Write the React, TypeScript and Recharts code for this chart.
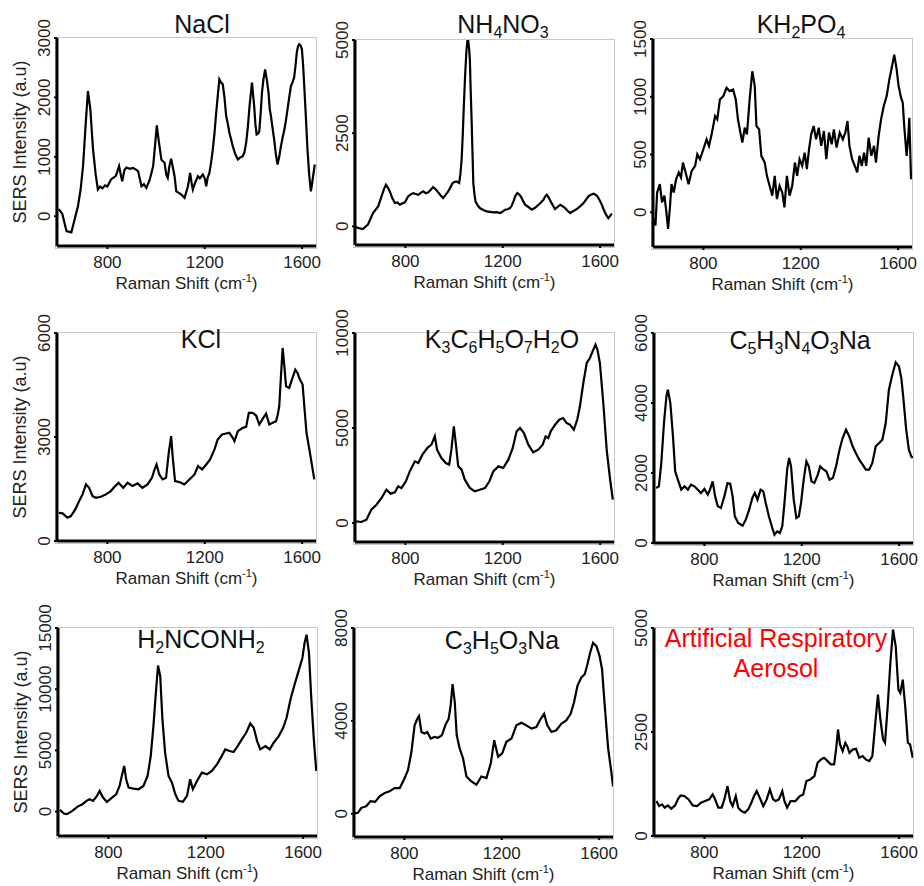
import React from "react";
import { LineChart, Line, XAxis, YAxis } from "recharts";

const FONT = '"Liberation Sans", Arial, Helvetica, sans-serif';

// [Raman shift (cm-1), SERS intensity (a.u)]
const nacl = [
  [600, 120], [615, 40], [632, -250], [652, -270], [665, -60], [679, 170], [690, 450], [700, 843],
  [710, 1500], [720, 2108], [730, 1800], [741, 1124], [752, 700], [761, 450], [770, 500], [780, 470],
  [790, 520], [800, 500], [815, 620], [835, 680], [848, 843], [855, 700], [861, 590], [870, 780],
  [878, 820], [892, 800], [905, 815], [916, 790], [926, 760], [940, 505], [950, 540], [960, 478],
  [974, 618], [988, 843], [996, 1200], [1003, 1530], [1010, 1300], [1014, 1180], [1022, 950], [1028, 927],
  [1035, 900], [1042, 700], [1048, 646], [1055, 850], [1062, 967], [1070, 800], [1076, 674], [1083, 420],
  [1095, 390], [1104, 365], [1117, 309], [1125, 420], [1131, 505], [1140, 730], [1146, 560], [1151, 450],
  [1160, 560], [1172, 674], [1180, 640], [1192, 702], [1200, 640], [1206, 505], [1212, 650], [1219, 730],
  [1226, 900], [1233, 1124], [1240, 1400], [1247, 1742], [1254, 2050], [1260, 2304], [1267, 2250], [1274, 2220],
  [1281, 2000], [1288, 1686], [1295, 1550], [1301, 1405], [1308, 1300], [1315, 1180], [1325, 1050], [1336, 955],
  [1346, 990], [1356, 1012], [1363, 1080], [1370, 1236], [1377, 1500], [1384, 1855], [1394, 2248], [1403, 1855],
  [1408, 1550], [1413, 1377], [1419, 1390], [1424, 1433], [1430, 1750], [1435, 2079], [1441, 2300], [1448, 2473],
  [1455, 2300], [1462, 2079], [1467, 1800], [1472, 1686], [1478, 1500], [1485, 1293], [1492, 1050], [1499, 871],
  [1506, 1000], [1513, 1180], [1520, 1330], [1526, 1433], [1533, 1600], [1540, 1798], [1547, 2000], [1554, 2192],
  [1560, 2250], [1567, 2332], [1572, 2500], [1578, 2754], [1583, 2860], [1588, 2894], [1594, 2870], [1599, 2810],
  [1604, 2550], [1608, 2248], [1615, 1700], [1622, 1124], [1629, 700], [1636, 421], [1641, 550], [1645, 674],
  [1652, 871],
];

const nh4no3 = [
  [591, 0], [605, -40], [625, -70], [646, 45], [667, 357], [688, 536], [702, 804], [712, 1000],
  [720, 1116], [728, 1040], [736, 938], [746, 760], [757, 625], [767, 640], [777, 580], [788, 620],
  [798, 643], [811, 804], [822, 860], [832, 893], [843, 870], [853, 848], [863, 900], [873, 938],
  [884, 890], [894, 911], [904, 980], [914, 1054], [925, 990], [935, 911], [945, 830], [955, 759],
  [966, 850], [976, 938], [985, 1050], [994, 1161], [1002, 1190], [1010, 1205], [1016, 1180], [1021, 1161],
  [1026, 1400], [1031, 1786], [1036, 2500], [1040, 3215], [1045, 4000], [1051, 4733], [1055, 4980], [1058, 4983],
  [1062, 4750], [1065, 4465], [1068, 3700], [1072, 2858], [1076, 1900], [1079, 1161], [1084, 850], [1088, 670],
  [1097, 560], [1106, 491], [1120, 440], [1134, 402], [1148, 390], [1161, 375], [1175, 380], [1189, 357],
  [1200, 400], [1210, 447], [1220, 460], [1230, 491], [1237, 560], [1244, 670], [1252, 820], [1260, 893],
  [1267, 860], [1274, 804], [1283, 690], [1292, 580], [1305, 520], [1319, 447], [1333, 500], [1347, 580],
  [1357, 640], [1367, 714], [1374, 800], [1381, 848], [1389, 770], [1397, 670], [1406, 560], [1415, 464],
  [1425, 520], [1436, 580], [1446, 540], [1456, 491], [1466, 420], [1477, 357], [1490, 410], [1504, 464],
  [1518, 540], [1532, 625], [1542, 720], [1552, 804], [1562, 850], [1573, 875], [1581, 850], [1589, 804],
  [1598, 700], [1607, 580], [1614, 460], [1621, 357], [1627, 290], [1634, 223], [1641, 280], [1648, 340],
];

const kh2po4 = [
  [596, -50], [603, -115], [610, 172], [621, 244], [630, 86], [640, 144], [648, 0], [655, -144],
  [662, 29], [669, 244], [678, 172], [688, 287], [699, 345], [708, 302], [716, 431], [727, 345],
  [739, 244], [752, 359], [766, 402], [775, 503], [786, 460], [800, 546], [813, 632], [823, 575],
  [834, 675], [848, 833], [857, 805], [868, 977], [882, 1006], [895, 1078], [908, 1049], [922, 1063],
  [933, 977], [942, 805], [952, 690], [960, 604], [970, 733], [979, 675], [990, 977], [1001, 1221],
  [1011, 1092], [1018, 747], [1029, 718], [1038, 489], [1052, 431], [1061, 316], [1072, 230], [1083, 144],
  [1093, 316], [1102, 115], [1113, 230], [1124, 172], [1133, 43], [1143, 316], [1154, 144], [1165, 230],
  [1176, 431], [1185, 316], [1195, 460], [1206, 402], [1216, 517], [1225, 374], [1234, 546], [1243, 675],
  [1253, 747], [1263, 632], [1274, 733], [1284, 575], [1295, 704], [1305, 460], [1316, 690], [1327, 589],
  [1336, 718], [1347, 560], [1360, 690], [1373, 632], [1383, 690], [1392, 790], [1400, 575], [1411, 460],
  [1422, 402], [1432, 345], [1441, 489], [1451, 402], [1460, 517], [1469, 402], [1479, 647], [1490, 489],
  [1501, 575], [1509, 431], [1520, 661], [1530, 805], [1541, 920], [1553, 1006], [1564, 1150], [1575, 1264],
  [1584, 1365], [1594, 1236], [1602, 1092], [1612, 992], [1619, 949], [1625, 747], [1635, 489], [1642, 661],
  [1646, 819], [1653, 287],
];

const kcl = [
  [600, 816], [616, 797], [636, 672], [650, 720], [668, 912], [684, 1152], [698, 1344], [712, 1632],
  [725, 1536], [739, 1296], [753, 1248], [773, 1277], [794, 1344], [814, 1440], [832, 1584], [846, 1680],
  [865, 1536], [883, 1680], [903, 1584], [924, 1661], [944, 1536], [965, 1632], [983, 1824], [994, 2064],
  [1002, 2208], [1013, 1920], [1027, 1776], [1041, 1824], [1052, 2544], [1062, 3024], [1068, 2448], [1078, 1728],
  [1096, 1699], [1116, 1632], [1137, 1776], [1158, 1920], [1172, 2160], [1189, 2064], [1206, 2208], [1222, 2352],
  [1240, 2640], [1253, 2928], [1271, 3072], [1288, 3100], [1301, 3120], [1315, 2976], [1322, 2880], [1336, 3168],
  [1356, 3264], [1370, 3293], [1381, 3696], [1397, 3696], [1411, 3619], [1424, 3360], [1438, 3523], [1452, 3677],
  [1465, 3360], [1479, 3408], [1493, 3456], [1500, 3648], [1506, 3888], [1513, 4752], [1520, 5568], [1527, 5040],
  [1534, 4464], [1547, 4416], [1558, 4656], [1572, 4944], [1581, 4848], [1591, 4656], [1602, 4512], [1609, 3888],
  [1618, 3120], [1632, 2544], [1650, 1776],
];

const citrate = [
  [598, 88], [619, 53], [640, 175], [660, 702], [681, 965], [702, 1316], [722, 1754], [739, 1544],
  [757, 1614], [770, 1929], [784, 1842], [802, 2193], [818, 2719], [839, 3245], [853, 3157], [870, 3596],
  [890, 3947], [907, 4122], [921, 4560], [930, 3859], [948, 3420], [966, 3157], [980, 3070], [989, 3859],
  [999, 5087], [1007, 4210], [1017, 2982], [1031, 2806], [1044, 2280], [1065, 1842], [1085, 1666], [1106, 1754],
  [1127, 1842], [1145, 2193], [1161, 2719], [1182, 2982], [1202, 2894], [1223, 3333], [1241, 3947], [1257, 4824],
  [1271, 5000], [1287, 4736], [1305, 4122], [1325, 3719], [1346, 3859], [1364, 4122], [1376, 4560], [1387, 4473],
  [1397, 4824], [1415, 5175], [1432, 5438], [1448, 5526], [1462, 5263], [1476, 5175], [1492, 4912], [1506, 5438],
  [1517, 6140], [1531, 7368], [1545, 8420], [1558, 8683], [1569, 9034], [1581, 9385], [1589, 9121], [1599, 8420],
  [1613, 6315], [1627, 3859], [1641, 2280], [1652, 1228],
];

const urate = [
  [602, 1571], [613, 1619], [623, 2286], [634, 3429], [644, 4190], [650, 4381], [660, 4000], [671, 3048],
  [680, 2048], [691, 1810], [705, 1524], [718, 1619], [732, 1524], [745, 1667], [759, 1619], [773, 1524],
  [786, 1429], [800, 1543], [814, 1381], [823, 1524], [834, 1762], [844, 1333], [855, 1048], [868, 1000],
  [882, 1333], [895, 1714], [906, 1695], [916, 1333], [925, 762], [939, 571], [957, 495], [970, 667],
  [984, 952], [997, 1286], [1007, 1429], [1018, 1238], [1031, 1524], [1042, 1476], [1052, 1143], [1065, 762],
  [1079, 429], [1088, 238], [1099, 333], [1110, 286], [1120, 476], [1129, 1143], [1140, 2095], [1148, 2429],
  [1156, 2190], [1167, 1238], [1178, 714], [1188, 762], [1197, 1143], [1208, 1810], [1219, 2333], [1229, 2190],
  [1240, 1762], [1252, 1714], [1266, 1952], [1276, 2190], [1290, 2095], [1301, 2048], [1314, 1810], [1328, 1857],
  [1341, 2190], [1355, 2667], [1368, 3000], [1382, 3238], [1395, 3048], [1409, 2762], [1422, 2571], [1436, 2381],
  [1450, 2238], [1463, 2095], [1477, 2095], [1490, 2286], [1504, 2762], [1518, 2857], [1531, 2952], [1545, 3429],
  [1558, 4381], [1572, 4810], [1586, 5162], [1599, 5048], [1609, 4714], [1618, 4095], [1629, 3238], [1640, 2667],
  [1650, 2476], [1656, 2429],
];

const urea = [
  [601, 136], [617, -163], [630, -217], [652, 54], [672, 380], [693, 598], [710, 869], [723, 1005],
  [737, 869], [753, 1277], [764, 1685], [778, 1141], [794, 788], [815, 1141], [832, 1413], [846, 2092],
  [855, 2907], [865, 3722], [873, 2635], [883, 1956], [903, 1875], [924, 1820], [944, 2092], [961, 2907],
  [974, 4537], [985, 6983], [996, 9971], [1004, 11928], [1013, 11058], [1022, 7526], [1033, 4809], [1047, 2907],
  [1061, 2364], [1075, 1413], [1088, 869], [1106, 788], [1123, 1277], [1136, 2635], [1147, 1820], [1164, 2500],
  [1184, 3179], [1205, 3043], [1225, 3315], [1246, 3858], [1262, 4402], [1280, 5081], [1298, 4945], [1314, 4863],
  [1331, 5352], [1348, 5896], [1366, 6439], [1383, 7200], [1397, 6847], [1411, 5760], [1424, 5081], [1445, 5352],
  [1463, 5081], [1479, 5624], [1500, 6168], [1518, 6847], [1532, 7662], [1548, 9156], [1565, 10379], [1583, 11602],
  [1597, 12553], [1606, 13775], [1614, 14454], [1624, 12960], [1633, 9428], [1644, 5896], [1654, 3315],
];

const lactate = [
  [592, 0], [609, 43], [623, 256], [643, 327], [661, 540], [680, 512], [698, 753], [719, 895],
  [739, 966], [760, 1108], [781, 1108], [798, 1464], [815, 1890], [829, 2671], [842, 3808], [853, 4092],
  [860, 4206], [870, 3524], [883, 3453], [894, 3524], [908, 3240], [924, 3311], [938, 3268], [954, 3382],
  [968, 3808], [982, 4092], [990, 4661], [998, 5585], [1007, 4803], [1015, 3382], [1027, 2814], [1041, 2387],
  [1055, 1606], [1075, 1393], [1096, 1251], [1116, 1606], [1137, 1535], [1155, 2174], [1169, 3169], [1185, 2458],
  [1202, 2600], [1219, 3098], [1240, 3240], [1260, 3808], [1281, 3922], [1301, 3808], [1322, 3666], [1342, 3737],
  [1360, 4092], [1374, 4305], [1387, 3808], [1404, 3524], [1424, 3595], [1445, 3879], [1465, 4021], [1483, 4305],
  [1497, 4803], [1511, 5514], [1527, 5869], [1541, 6011], [1552, 6437], [1563, 6934], [1575, 7361], [1589, 7219],
  [1602, 6792], [1612, 6224], [1623, 4661], [1637, 2814], [1650, 1819], [1657, 1179],
];

const aerosol = [
  [603, 840], [614, 720], [626, 760], [637, 680], [650, 736], [664, 656], [680, 736], [691, 880],
  [702, 976], [718, 960], [735, 880], [752, 736], [770, 720], [786, 800], [803, 840], [820, 880],
  [834, 1000], [844, 880], [857, 680], [871, 680], [882, 880], [895, 1200], [906, 840], [916, 720],
  [929, 960], [939, 680], [952, 600], [966, 560], [980, 640], [993, 800], [1004, 960], [1015, 1080],
  [1029, 896], [1042, 720], [1056, 880], [1069, 1120], [1082, 880], [1093, 840], [1106, 880], [1120, 1080],
  [1129, 840], [1140, 680], [1154, 840], [1174, 840], [1192, 960], [1206, 1000], [1219, 1320], [1235, 1360],
  [1252, 1440], [1265, 1760], [1279, 1840], [1292, 1880], [1306, 1800], [1320, 1720], [1333, 1720], [1341, 2080],
  [1349, 2560], [1357, 2200], [1368, 2040], [1379, 2240], [1387, 2160], [1396, 2000], [1409, 2080], [1423, 2096],
  [1436, 1880], [1450, 1920], [1463, 1840], [1477, 1800], [1490, 1920], [1501, 2640], [1513, 3400], [1523, 2800],
  [1534, 2320], [1542, 2240], [1553, 3120], [1564, 4160], [1575, 4960], [1586, 4560], [1597, 3520], [1605, 3440],
  [1615, 3760], [1625, 3120], [1636, 2240], [1645, 2200], [1656, 1880],
];

const shiftDomain = [593, 1657];
const shiftTicks = [800, 1200, 1600];

const naclTicks = [0, 1000, 2000, 3000];
const nh4no3Ticks = [0, 2500, 5000];
const kh2po4Ticks = [0, 500, 1000, 1500];
const kclTicks = [0, 3000, 6000];
const citrateTicks = [0, 5000, 10000];
const urateTicks = [0, 2000, 4000, 6000];
const ureaTicks = [0, 5000, 10000, 15000];
const lactateTicks = [0, 4000, 8000];
const aerosolTicks = [0, 2500, 5000];

const titles = [
  "NaCl", "NH_4NO_3", "KH_2PO_4",
  "KCl", "K_3C_6H_5O_7H_2O", "C_5H_3N_4O_3Na",
  "H_2NCONH_2", "C_3H_5O_3Na", "Artificial Respiratory|Aerosol",
];

// layout of the 3x3 grid: plot box left/top/height, title anchor
const panels = [
  { data: nacl, yDomain: [-500, 3000], yTicks: naclTicks, left: 57, top: 38, h: 208, tx: 202, ty: 33, yLabel: true },
  { data: nh4no3, yDomain: [-500, 5000], yTicks: nh4no3Ticks, left: 355, top: 40, h: 205, tx: 503, ty: 33 },
  { data: kh2po4, yDomain: [-300, 1500], yTicks: kh2po4Ticks, left: 653, top: 39, h: 208, tx: 801, ty: 33 },
  { data: kcl, yDomain: [0, 6000], yTicks: kclTicks, left: 57, top: 333, h: 208, tx: 201, ty: 348, yLabel: true },
  { data: citrate, yDomain: [-1000, 10000], yTicks: citrateTicks, left: 355, top: 333, h: 209, tx: 502, ty: 348 },
  { data: urate, yDomain: [0, 6000], yTicks: urateTicks, left: 654, top: 333, h: 210, tx: 800, ty: 349 },
  { data: urea, yDomain: [-2000, 15000], yTicks: ureaTicks, left: 58, top: 628, h: 208, tx: 201, ty: 648, yLabel: true },
  { data: lactate, yDomain: [-1000, 8000], yTicks: lactateTicks, left: 354, top: 628, h: 209, tx: 502, ty: 649 },
  { data: aerosol, yDomain: [0, 5000], yTicks: aerosolTicks, left: 654, top: 628, h: 208, tx: 776, ty: 647, red: true },
];

const PLOT_W = 259;
const Y_W = 57;
const TOP_PAD = 30;
const X_H = 56;

const YTick = (props: any) => {
  const { x, y, payload } = props;
  return (
    <text x={x} y={y} transform={`rotate(-90, ${x}, ${y})`} textAnchor="middle"
      fontSize={17} fill="#222" fontFamily={FONT}>
      {payload.value}
    </text>
  );
};

const ShiftLabel = ({ viewBox }: any) => {
  const cx = viewBox.x + viewBox.width / 2;
  return (
    <text x={cx} y={viewBox.y + 43} textAnchor="middle" fontSize={17} fill="#222" fontFamily={FONT}>
      Raman Shift (cm<tspan dy={-7} fontSize={11}>-1</tspan><tspan dy={7}>)</tspan>
    </text>
  );
};

const IntensityLabel = ({ viewBox }: any) => {
  const x = viewBox.x + 26;
  const y = viewBox.y + viewBox.height / 2;
  return (
    <text x={x} y={y} transform={`rotate(-90, ${x}, ${y})`} textAnchor="middle"
      fontSize={18} fill="#222" fontFamily={FONT}>
      SERS Intensity (a.u)
    </text>
  );
};

const formula = (s: string) =>
  s.split(/_(\d)/).map((part, i) =>
    i % 2 === 1 ? (
      <tspan key={i} dy={5} fontSize={16}>{part}</tspan>
    ) : (
      <tspan key={i} dy={i === 0 ? 0 : -5}>{part}</tspan>
    )
  );

function Spectrum({ p }: { p: any }) {
  const rows = p.data.map(([shift, intensity]: number[]) => ({ shift, intensity }));
  const W = Y_W + PLOT_W + 6;
  const H = TOP_PAD + p.h + X_H;
  return (
    <div style={{ position: "absolute", left: p.left - Y_W, top: p.top - TOP_PAD, width: W, height: H }}>
      <div
        style={{
          position: "absolute", left: Y_W - 2, top: TOP_PAD - 1, width: PLOT_W + 3, height: p.h + 4,
          border: "1px solid #c8c8c8", boxSizing: "border-box",
        }}
      />
      <div style={{ position: "absolute", left: 0, top: 0 }}>
        <LineChart width={W} height={H} data={rows} margin={{ top: TOP_PAD, right: 6, bottom: 0, left: 0 }}>
          <XAxis
            type="number" dataKey="shift" domain={shiftDomain} ticks={shiftTicks} allowDataOverflow
            height={X_H} axisLine={{ stroke: "#000", strokeWidth: 3 }} tickLine={{ stroke: "#000", strokeWidth: 2 }}
            tickSize={3} tickMargin={7} tick={{ fontSize: 17, fill: "#222", fontFamily: FONT }}
            label={<ShiftLabel />}
          />
          <YAxis
            type="number" domain={p.yDomain} ticks={p.yTicks} allowDataOverflow width={Y_W}
            axisLine={{ stroke: "#000", strokeWidth: 3 }} tickLine={{ stroke: "#000", strokeWidth: 2 }}
            tickSize={3} tickMargin={4} tick={YTick}
            label={p.yLabel ? <IntensityLabel /> : undefined}
          />
          <Line type="linear" dataKey="intensity" stroke="#000" strokeWidth={2.2} dot={false} isAnimationActive={false} />
        </LineChart>
      </div>
    </div>
  );
}

export default function App() {
  return (
    <div
      style={{
        position: "absolute", left: 0, top: 0, width: 924, height: 886, overflow: "hidden",
        background: "#fff", fontFamily: FONT,
      }}
    >
      {panels.map((p, i) => (
        <Spectrum key={i} p={p} />
      ))}
      <svg width={924} height={886} style={{ position: "absolute", left: 0, top: 0, pointerEvents: "none" }}>
        {panels.map((p, i) => {
          const lines = titles[i].split("|");
          return lines.map((line, j) => (
            <text key={`${i}-${j}`} x={p.tx} y={p.ty + j * 30} textAnchor="middle" fontSize={25}
              fill={p.red ? "#ff0000" : "#111"} fontFamily={FONT}>
              {formula(line)}
            </text>
          ));
        })}
      </svg>
    </div>
  );
}
